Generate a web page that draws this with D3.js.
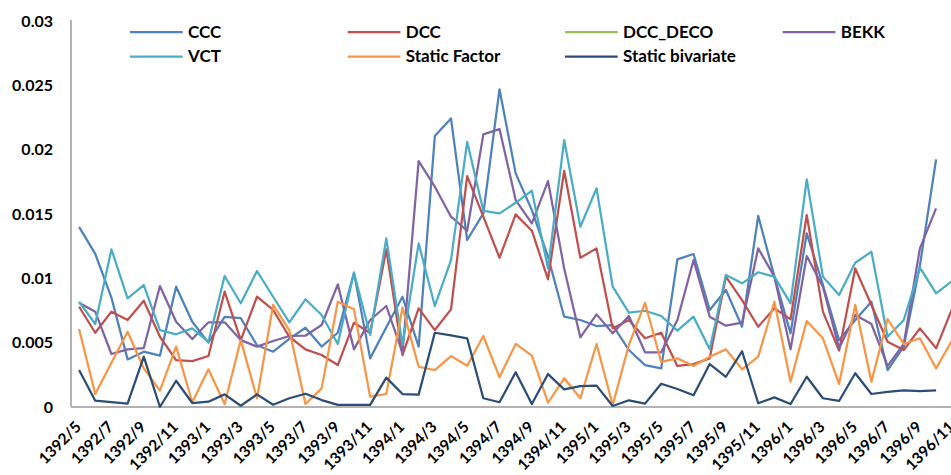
<!DOCTYPE html>
<html>
<head>
<meta charset="utf-8">
<script src="https://cdn.jsdelivr.net/npm/d3@7"></script>
<style>
  html, body { margin: 0; padding: 0; background: #fff; }
  svg { display: block; font-family: Lato, "Open Sans", sans-serif; }
</style>
</head>
<body>
<svg id="chart" width="951" height="475"></svg>
<script>
// ---------- data ----------
const categories = [
  "1392/5","1392/6","1392/7","1392/8","1392/9","1392/10","1392/11","1392/12",
  "1393/1","1393/2","1393/3","1393/4","1393/5","1393/6","1393/7","1393/8","1393/9","1393/10","1393/11","1393/12",
  "1394/1","1394/2","1394/3","1394/4","1394/5","1394/6","1394/7","1394/8","1394/9","1394/10","1394/11","1394/12",
  "1395/1","1395/2","1395/3","1395/4","1395/5","1395/6","1395/7","1395/8","1395/9","1395/10","1395/11","1395/12",
  "1396/1","1396/2","1396/3","1396/4","1396/5","1396/6","1396/7","1396/8","1396/9","1396/10","1396/11"
];

const seriesNames = ["CCC", "DCC", "DCC_DECO", "BEKK", "VCT", "Static Factor", "Static bivariate"];

const ccc = [0.0140,0.0119,0.0085,0.0037,0.0043,0.0040,0.00935,0.00663,0.0050,0.0070,
  0.0069,0.0048,0.0043,0.0053,0.00616,0.0047,0.00577,0.01044,0.00378,0.0062,
  0.00857,0.00469,0.02106,0.02243,0.01298,0.01505,0.02469,0.01816,0.0153,0.01168,
  0.00702,0.00676,0.00629,0.00637,0.00443,0.00326,0.0030,0.01147,0.01189,0.00754,
  0.00909,0.00624,0.01486,0.01013,0.00572,0.0135,0.0095,0.0052,0.00676,0.00818,
  0.00287,0.00469,0.0110,0.01925];

const dcc = [0.00779,0.00577,0.00741,0.00676,0.00826,0.00546,0.00365,0.00357,0.00396,0.00896,
  0.0052,0.00857,0.00754,0.00546,0.00448,0.00404,0.00326,0.00655,0.00575,0.01225,
  0.00404,0.00767,0.00598,0.00759,0.01795,0.01479,0.0116,0.01497,0.0137,0.00992,
  0.01836,0.0116,0.01233,0.00611,0.00676,0.00534,0.00577,0.00319,0.00334,0.00378,
  0.01013,0.00831,0.00624,0.00767,0.00681,0.01492,0.00741,0.00438,0.01077,0.00793,
  0.00507,0.00443,0.00611,0.00456,0.00767];

const dccDeco = [];

const bekk = [0.0081,0.00741,0.00412,0.00448,0.00458,0.0094,0.00663,0.00528,0.00658,0.00658,
  0.0052,0.00469,0.00513,0.00552,0.00554,0.00637,0.00953,0.00448,0.00676,0.00785,
  0.0042,0.01911,0.01712,0.01479,0.0137,0.02119,0.0216,0.01608,0.01427,0.01756,
  0.01077,0.00541,0.0072,0.00573,0.00707,0.00425,0.00425,0.00676,0.01142,0.00702,
  0.00632,0.00655,0.01233,0.01013,0.00448,0.01173,0.00935,0.00456,0.00715,0.00645,
  0.00319,0.0049,0.01233,0.01544];

const vct = [0.00818,0.00645,0.01225,0.00845,0.00948,0.00598,0.00565,0.00611,0.00507,0.01018,
  0.00806,0.01057,0.00857,0.00658,0.00837,0.00715,0.0049,0.01044,0.0056,0.01311,
  0.00482,0.01272,0.00785,0.01142,0.02061,0.01525,0.01505,0.01587,0.01681,0.01077,
  0.02075,0.01401,0.01699,0.00935,0.00733,0.00748,0.00707,0.00593,0.00702,0.00448,
  0.01026,0.00961,0.01047,0.01013,0.00806,0.01769,0.01013,0.0087,0.01121,0.01207,
  0.00546,0.00676,0.01083,0.00883,0.0098];

const staticFactor = [0.00606,0.00101,0.00344,0.00585,0.0030,0.00127,0.00469,0.00037,0.00293,0.00023,
  0.0052,0.00068,0.00793,0.00598,0.00023,0.00145,0.00818,0.00759,0.0008,0.00101,
  0.00772,0.00313,0.00287,0.00396,0.00321,0.00552,0.00231,0.0049,0.00399,0.00033,
  0.00223,0.00068,0.0049,0.00016,0.00482,0.0081,0.0035,0.00378,0.00319,0.00391,
  0.00448,0.00293,0.00391,0.00818,0.00197,0.00668,0.00534,0.00179,0.00793,0.00197,
  0.00684,0.0049,0.00534,0.0030,0.0052];

const staticBivariate = [0.00287,0.00049,0.00037,0.00026,0.00391,0.0,0.00204,0.00031,0.00041,0.00098,
  0.0001,0.00098,0.00018,0.00068,0.00103,0.00054,0.00016,0.00016,0.00016,0.00228,
  0.00101,0.00096,0.00577,0.00557,0.00534,0.00068,0.00037,0.0027,0.00023,0.00256,
  0.00137,0.00163,0.00166,0.00008,0.00052,0.00026,0.00181,0.0014,0.00091,0.00334,
  0.00235,0.00433,0.00029,0.00075,0.00023,0.00235,0.00068,0.00047,0.00262,0.00101,
  0.00117,0.0013,0.00124,0.0013];

const yTicks = [0, 0.005, 0.01, 0.015, 0.02, 0.025, 0.03];
const yTickLabels = ["0", "0.005", "0.01", "0.015", "0.02", "0.025", "0.03"];

const seriesValues = [ccc, dcc, dccDeco, bekk, vct, staticFactor, staticBivariate];
const colors = ["#4F81BD", "#C0504D", "#9BBB59", "#8064A2", "#4BACC6", "#F79646", "#2C4D75"];

// ---------- layout ----------
const svg = d3.select("#chart");
const plotLeft = 71, plotBottom = 407, plotTop = 21;
const bandW = 16.17;

const x = d3.scaleBand()
  .domain(categories)
  .range([plotLeft, plotLeft + bandW * categories.length])
  .paddingInner(0).paddingOuter(0);
const xc = c => x(c) + x.bandwidth() / 2;

const y = d3.scaleLinear().domain([0, 0.03]).range([plotBottom, plotTop]);

// axes lines
svg.append("line")
  .attr("x1", plotLeft).attr("x2", plotLeft)
  .attr("y1", plotTop - 1).attr("y2", plotBottom)
  .attr("stroke", "#b3b3b3").attr("stroke-width", 2);
svg.append("line")
  .attr("x1", plotLeft).attr("x2", 951)
  .attr("y1", plotBottom).attr("y2", plotBottom)
  .attr("stroke", "#b3b3b3").attr("stroke-width", 2);

// y axis labels
const yAxis = d3.axisLeft(y)
  .tickValues(yTicks)
  .tickSize(0)
  .tickPadding(18)
  .tickFormat((d, i) => yTickLabels[i]);
const gy = svg.append("g").attr("transform", `translate(${plotLeft},0)`).call(yAxis);
gy.select(".domain").remove();
gy.selectAll("text")
  .attr("font-family", "Lato, sans-serif")
  .attr("font-weight", "bold")
  .attr("font-size", 16)
  .attr("fill", "#000");

// x axis labels
const xAxis = d3.axisBottom(x)
  .tickValues(categories.filter((d, i) => i % 2 === 0))
  .tickSize(0)
  .tickPadding(0);
const gx = svg.append("g").attr("transform", `translate(0,${plotBottom})`).call(xAxis);
gx.select(".domain").remove();
gx.selectAll("text")
  .attr("font-family", "Lato, sans-serif")
  .attr("font-weight", "bold")
  .attr("font-size", 15.5)
  .attr("fill", "#000")
  .attr("text-anchor", "end")
  .attr("dy", null)
  .attr("y", 0)
  .attr("transform", "translate(3,21) rotate(-45)");

// lines
const line = d3.line()
  .defined(d => d != null)
  .x((d, i) => xc(categories[i]))
  .y(d => y(d));

seriesValues.forEach((vals, si) => {
  if (!vals.length) return;
  svg.append("path")
    .datum(vals)
    .attr("fill", "none")
    .attr("stroke", colors[si])
    .attr("stroke-width", 2.25)
    .attr("stroke-linejoin", "round")
    .attr("d", line);
});

// legend
const legendCols = [130, 347.7, 565, 782.7];
const legendRows = [32, 56.5];
seriesNames.forEach((name, i) => {
  const col = i % 4, row = Math.floor(i / 4);
  const g = svg.append("g").attr("transform", `translate(${legendCols[col]},${legendRows[row]})`);
  g.append("line").attr("x1", 0).attr("x2", 52.7).attr("y1", 0).attr("y2", 0)
    .attr("stroke", colors[i]).attr("stroke-width", 2.25);
  g.append("text").attr("x", 58).attr("y", 0).attr("dy", "0.35em")
    .attr("font-family", "Lato, sans-serif").attr("font-weight", "bold")
    .attr("font-size", 17).attr("fill", "#000").text(name);
});
</script>
</body>
</html>
